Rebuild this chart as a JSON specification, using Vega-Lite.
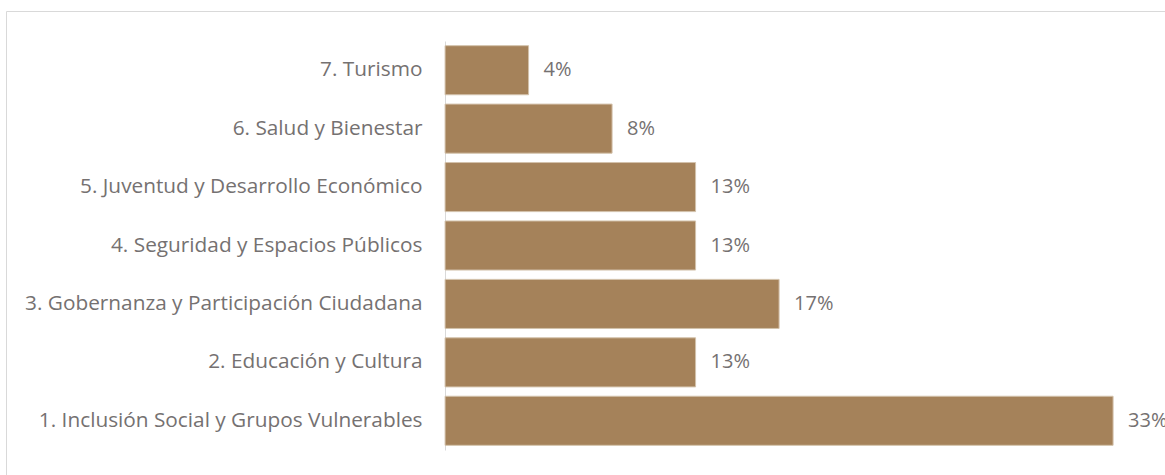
{
  "$schema": "https://vega.github.io/schema/vega-lite/v6.json",
  "width": 1200,
  "height": 500,
  "padding": {"left": 6, "top": 11, "right": 0, "bottom": 0},
  "autosize": {"type": "none"},
  "background": "white",
  "config": {
    "view": {"stroke": "#d9d9d9", "strokeWidth": 1},
    "font": "Open Sans",
    "text": {"font": "Open Sans"}
  },
  "data": {
    "values": [
      {"area": "7. Turismo", "pct": 0.041667},
      {"area": "6. Salud y Bienestar", "pct": 0.083333},
      {"area": "5. Juventud y Desarrollo Económico", "pct": 0.125},
      {"area": "4. Seguridad y Espacios Públicos", "pct": 0.125},
      {"area": "3. Gobernanza y Participación Ciudadana", "pct": 0.166667},
      {"area": "2. Educación y Cultura", "pct": 0.125},
      {"area": "1. Inclusión Social y Grupos Vulnerables", "pct": 0.333333}
    ]
  },
  "encoding": {
    "y": {
      "field": "area",
      "type": "nominal",
      "sort": null,
      "title": null,
      "scale": {"range": [30, 439], "paddingInner": 0.16, "paddingOuter": 0.08},
      "axis": {
        "offset": -439,
        "domainColor": "#d9d9d9",
        "domainWidth": 1,
        "ticks": false,
        "labelPadding": 23,
        "labelFont": "Open Sans",
        "labelFontSize": 20.8,
        "labelColor": "#757171",
        "labelLimit": 0
      }
    },
    "x": {
      "field": "pct",
      "type": "quantitative",
      "scale": {"domain": [-0.2191, 0.3797], "nice": false, "zero": false},
      "axis": null
    }
  },
  "layer": [
    {
      "mark": {"type": "bar", "color": "#a5825a", "stroke": "#d3c2ab", "strokeWidth": 1},
      "encoding": {"x2": {"datum": 0}}
    },
    {
      "mark": {"type": "text", "align": "left", "baseline": "middle", "dx": 15, "fontSize": 20, "color": "#757171"},
      "encoding": {"text": {"field": "pct", "type": "quantitative", "format": ".0%"}}
    }
  ]
}
